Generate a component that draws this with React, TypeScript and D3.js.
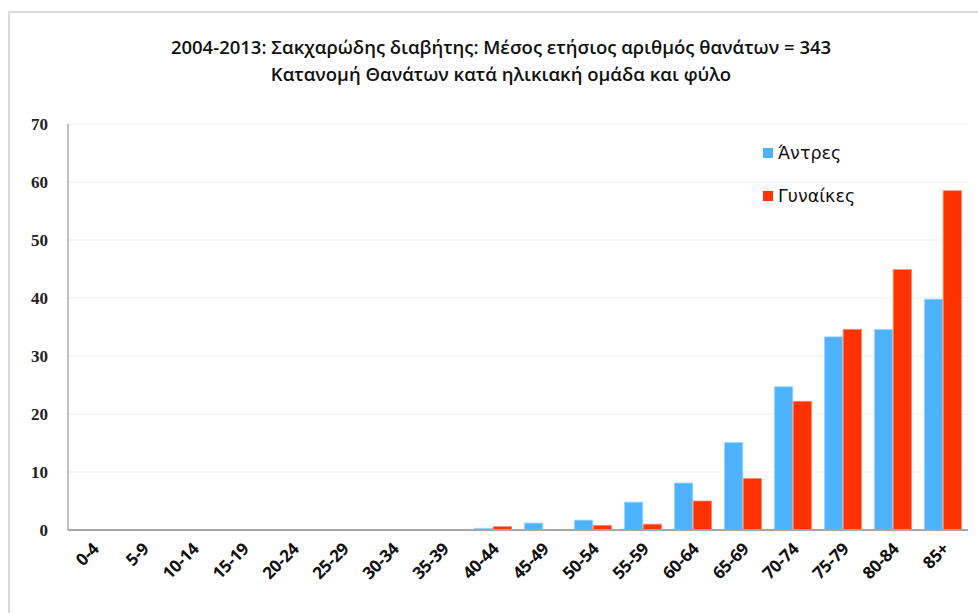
import React, { useRef, useEffect } from 'react';
import * as d3 from 'd3';

const ageGroups = ['0-4', '5-9', '10-14', '15-19', '20-24', '25-29', '30-34', '35-39', '40-44',
  '45-49', '50-54', '55-59', '60-64', '65-69', '70-74', '75-79', '80-84', '85+'];
const men = [0, 0, 0, 0, 0, 0, 0, 0, 0.3, 1.2, 1.7, 4.8, 8.1, 15.1, 24.7, 33.3, 34.6, 39.8];
const women = [0, 0, 0, 0, 0, 0, 0, 0, 0.6, 0, 0.8, 1.0, 5.0, 8.9, 22.2, 34.6, 44.9, 58.5];
const seriesNames = ['Άντρες', 'Γυναίκες'];
const seriesColors = ['#4db3ff', '#ff3300'];
const yTicks = [0, 10, 20, 30, 40, 50, 60, 70];
const titleLines = [
  '2004-2013:  Σακχαρώδης διαβήτης: Μέσος ετήσιος αριθμός θανάτων = 343',
  'Κατανομή Θανάτων κατά ηλικιακή ομάδα και φύλο',
];

const width = 978;
const height = 613;
const margin = { top: 124, right: 10, bottom: 83, left: 68 };

function drawChart(svgEl: SVGSVGElement) {
  const svg = d3.select(svgEl);
  svg.selectAll('*').remove();

  // 背景 / frame
  svg.append('rect').attr('width', width).attr('height', height).attr('fill', '#fff');
  svg.append('path')
    .attr('d', `M9,${height} V12 H${width}`)
    .attr('fill', 'none')
    .attr('stroke', '#d9d9d9')
    .attr('stroke-width', 2);

  const x0 = d3.scaleBand()
    .domain(ageGroups)
    .range([margin.left, width - margin.right])
    .paddingInner(0.24)
    .paddingOuter(0.12);
  const x1 = d3.scaleBand()
    .domain(seriesNames)
    .range([0, x0.bandwidth()])
    .padding(0.02);
  const y = d3.scaleLinear()
    .domain([0, 70])
    .range([height - margin.bottom, margin.top]);

  // gridlines
  svg.append('g')
    .selectAll('line')
    .data(yTicks.slice(1))
    .join('line')
    .attr('x1', margin.left)
    .attr('x2', width - margin.right)
    .attr('y1', d => y(d))
    .attr('y2', d => y(d))
    .attr('stroke', '#efefef')
    .attr('stroke-width', 1);

  // y labels
  svg.append('g')
    .selectAll('text')
    .data(yTicks)
    .join('text')
    .attr('x', 48)
    .attr('y', d => y(d) + 6)
    .attr('text-anchor', 'end')
    .attr('font-family', '"Liberation Serif", serif')
    .attr('font-weight', 'bold')
    .attr('font-size', 17)
    .attr('fill', '#222')
    .text(d => d);

  // bars
  const groups = svg.append('g')
    .selectAll('g')
    .data(ageGroups)
    .join('g')
    .attr('transform', d => `translate(${x0(d)},0)`);

  groups.selectAll('rect')
    .data((d, i) => [men[i], women[i]].map((v, s) => ({ v, s })))
    .join('rect')
    .filter(d => d.v > 0)
    .attr('x', d => x1(seriesNames[d.s]) as number)
    .attr('y', d => y(d.v))
    .attr('width', x1.bandwidth())
    .attr('height', d => y(0) - y(d.v))
    .attr('fill', d => seriesColors[d.s])
    .attr('stroke', d => d.s === 0 ? '#9fd6ff' : '#ff8f70')
    .attr('stroke-width', 0.8);

  // axes lines
  svg.append('line')
    .attr('x1', margin.left).attr('x2', margin.left)
    .attr('y1', margin.top).attr('y2', y(0))
    .attr('stroke', '#999').attr('stroke-width', 1.2);
  svg.append('line')
    .attr('x1', margin.left).attr('x2', width - margin.right)
    .attr('y1', y(0)).attr('y2', y(0))
    .attr('stroke', '#a6a6a6').attr('stroke-width', 2);

  // x labels
  svg.append('g')
    .selectAll('text')
    .data(ageGroups)
    .join('text')
    .attr('transform', d => `translate(${(x0(d) as number) + x0.bandwidth() / 2 + 7},${y(0) + 20}) rotate(-45)`)
    .attr('text-anchor', 'end')
    .attr('font-family', '"Open Sans", sans-serif')
    .attr('font-weight', 'bold')
    .attr('font-size', 17)
    .attr('letter-spacing', -0.3)
    .attr('fill', '#111')
    .text(d => d);

  // title
  svg.append('g')
    .selectAll('text')
    .data(titleLines)
    .join('text')
    .attr('x', 501)
    .attr('y', (d, i) => 54 + i * 27)
    .attr('text-anchor', 'middle')
    .attr('font-family', '"Open Sans", sans-serif')
    .attr('font-weight', 600)
    .attr('font-size', 18.5)
    .attr('fill', '#111')
    .text(d => d);

  // legend
  const legend = svg.append('g')
    .selectAll('g')
    .data(seriesNames)
    .join('g')
    .attr('transform', (d, i) => `translate(763,${148 + i * 43})`);
  legend.append('rect')
    .attr('width', 10).attr('height', 10)
    .attr('fill', (d, i) => seriesColors[i]);
  legend.append('text')
    .attr('x', 15).attr('y', 11)
    .attr('font-family', '"DejaVu Sans", sans-serif')
    .attr('font-size', 17.5)
    .attr('fill', '#111')
    .text(d => d);
}

export default function App() {
  const ref = useRef<SVGSVGElement>(null);
  useEffect(() => {
    if (ref.current) drawChart(ref.current);
  }, []);
  return (
    <svg
      ref={ref}
      width={width}
      height={height}
      style={{ position: 'absolute', left: 0, top: 0 }}
    />
  );
}
